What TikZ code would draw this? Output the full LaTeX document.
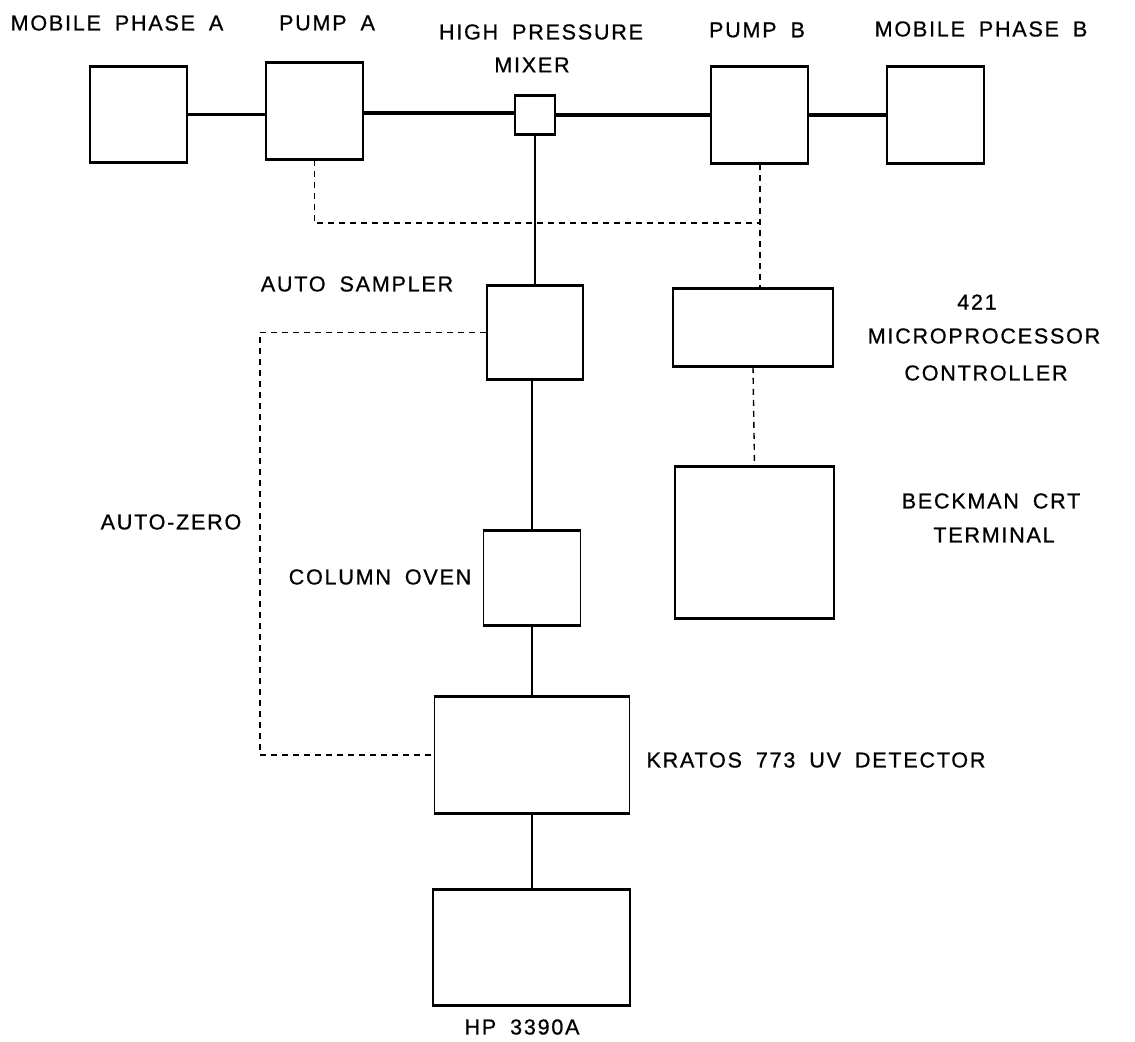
\documentclass[tikz,border=0pt]{standalone}
\usepackage{fontspec}
\setmainfont[LetterSpace=8,WordSpace=1.8,FakeBold=0.7]{Liberation Sans}
\begin{document}
\begin{tikzpicture}[x=0.5pt,y=-0.5pt]
\fontsize{10.8}{12}\selectfont
  \tikzstyle{unit}=[draw,line width=0.8pt,inner sep=0pt]
  \tikzstyle{caption}=[inner sep=0pt,text centered]
  \tikzstyle{flow}=[line width=1.8pt]
  \tikzstyle{feed}=[line width=0.7pt]
  \tikzstyle{signal}=[line width=0.9pt,dash pattern=on 3pt off 2.5pt]

  \useasboundingbox (0,0) rectangle (1135,1042);

  \begin{scope}
   % solvent delivery
   \node[unit,minimum width=48.5pt,minimum height=47.5pt](mpa) at (138.5,114.5) {};
   \node[caption](lblmpa) at (117,23) {MOBILE PHASE A};
   \node[unit,minimum width=48.5pt,minimum height=48pt](pumpA) at (314.5,111) {};
   \node[caption](lblpumpA) at (327,23) {PUMP A};
   \draw[flow] (mpa.east) -- (mpa.east -| pumpA.west);

   \node[unit,minimum width=20pt,minimum height=19pt](mixer) at (535,115) {};
   \node[caption](lblmixer1) at (541,32) {HIGH PRESSURE};
   \node[caption](lblmixer2) at (532,65) {MIXER};
   \draw[flow] (pumpA.east |- 0,113) -- (mixer.west |- 0,113);

   \node[unit,minimum width=48.5pt,minimum height=48pt](pumpB) at (759.5,115) {};
   \node[caption](lblpumpB) at (757,30) {PUMP B};
   \draw[flow] (mixer.east) -- (pumpB.west);
   \node[unit,minimum width=48.5pt,minimum height=48pt](mpb) at (935.5,115) {};
   \node[caption](lblmpb) at (981,29) {MOBILE PHASE B};
   \draw[flow] (pumpB.east) -- (mpb.west);

   % controller
   \node[unit,minimum width=80pt,minimum height=38.5pt](ctrl) at (753,327.5) {};
   \node[caption](lblctrl1) at (977,302) {421};
   \node[caption](lblctrl2) at (984,336) {MICROPROCESSOR};
   \node[caption](lblctrl3) at (986,373) {CONTROLLER};
   \coordinate (tap) at (760,223);
   \draw[signal] (pumpB.south -| tap) -- (tap |- ctrl.north);
   \draw[signal] (pumpA.south) |- (tap);

   \node[unit,minimum width=79.5pt,minimum height=75.5pt](crt) at (754.5,542.5) {};
   \node[caption](lblcrt1) at (991,501) {BECKMAN CRT};
   \node[caption](lblcrt2) at (994,535) {TERMINAL};
   \draw[signal,line width=0.7pt] (ctrl.south) -- (crt.north);

   % sample path
   \node[unit,minimum width=48pt,minimum height=46.5pt](sampler) at (535,332.5) {};
   \node[caption](lblsampler) at (357,284) {AUTO SAMPLER};
   \draw[feed] (mixer.south) -- (sampler.north);

   \node[unit,minimum width=48.5pt,minimum height=47pt](oven) at (532,578) {};
   \node[caption](lbloven) at (380,577) {COLUMN OVEN};
   \draw[feed] (sampler.south -| oven.north) -- (oven.north);

   \node[unit,minimum width=97.5pt,minimum height=57.5pt](kratos) at (532,755) {};
   \node[caption](lblkratos) at (816,760) {KRATOS 773 UV DETECTOR};
   \draw[feed] (oven.south) -- (kratos.north);

   \node[unit,minimum width=98.5pt,minimum height=57.5pt](hp) at (531.5,947.5) {};
   \node[caption](lblhp) at (522,1027) {HP 3390A};
   \draw[feed] (kratos.south) -- (kratos.south |- hp.north);

   % auto-zero
   \coordinate (azcorner) at (260,0);
   \node[caption](lblaz) at (171,522) {AUTO-ZERO};
   \draw[signal] (sampler.west) -| (azcorner |- kratos.west) -- (kratos.west);

   \foreach \u in {mpa,pumpA,mixer,pumpB,mpb,sampler,ctrl,crt,oven,kratos,hp}
     \draw[line width=1.6pt] (\u.north west) -- (\u.north east) (\u.south west) -- (\u.south east);
  \end{scope}

\end{tikzpicture}
\end{document}
